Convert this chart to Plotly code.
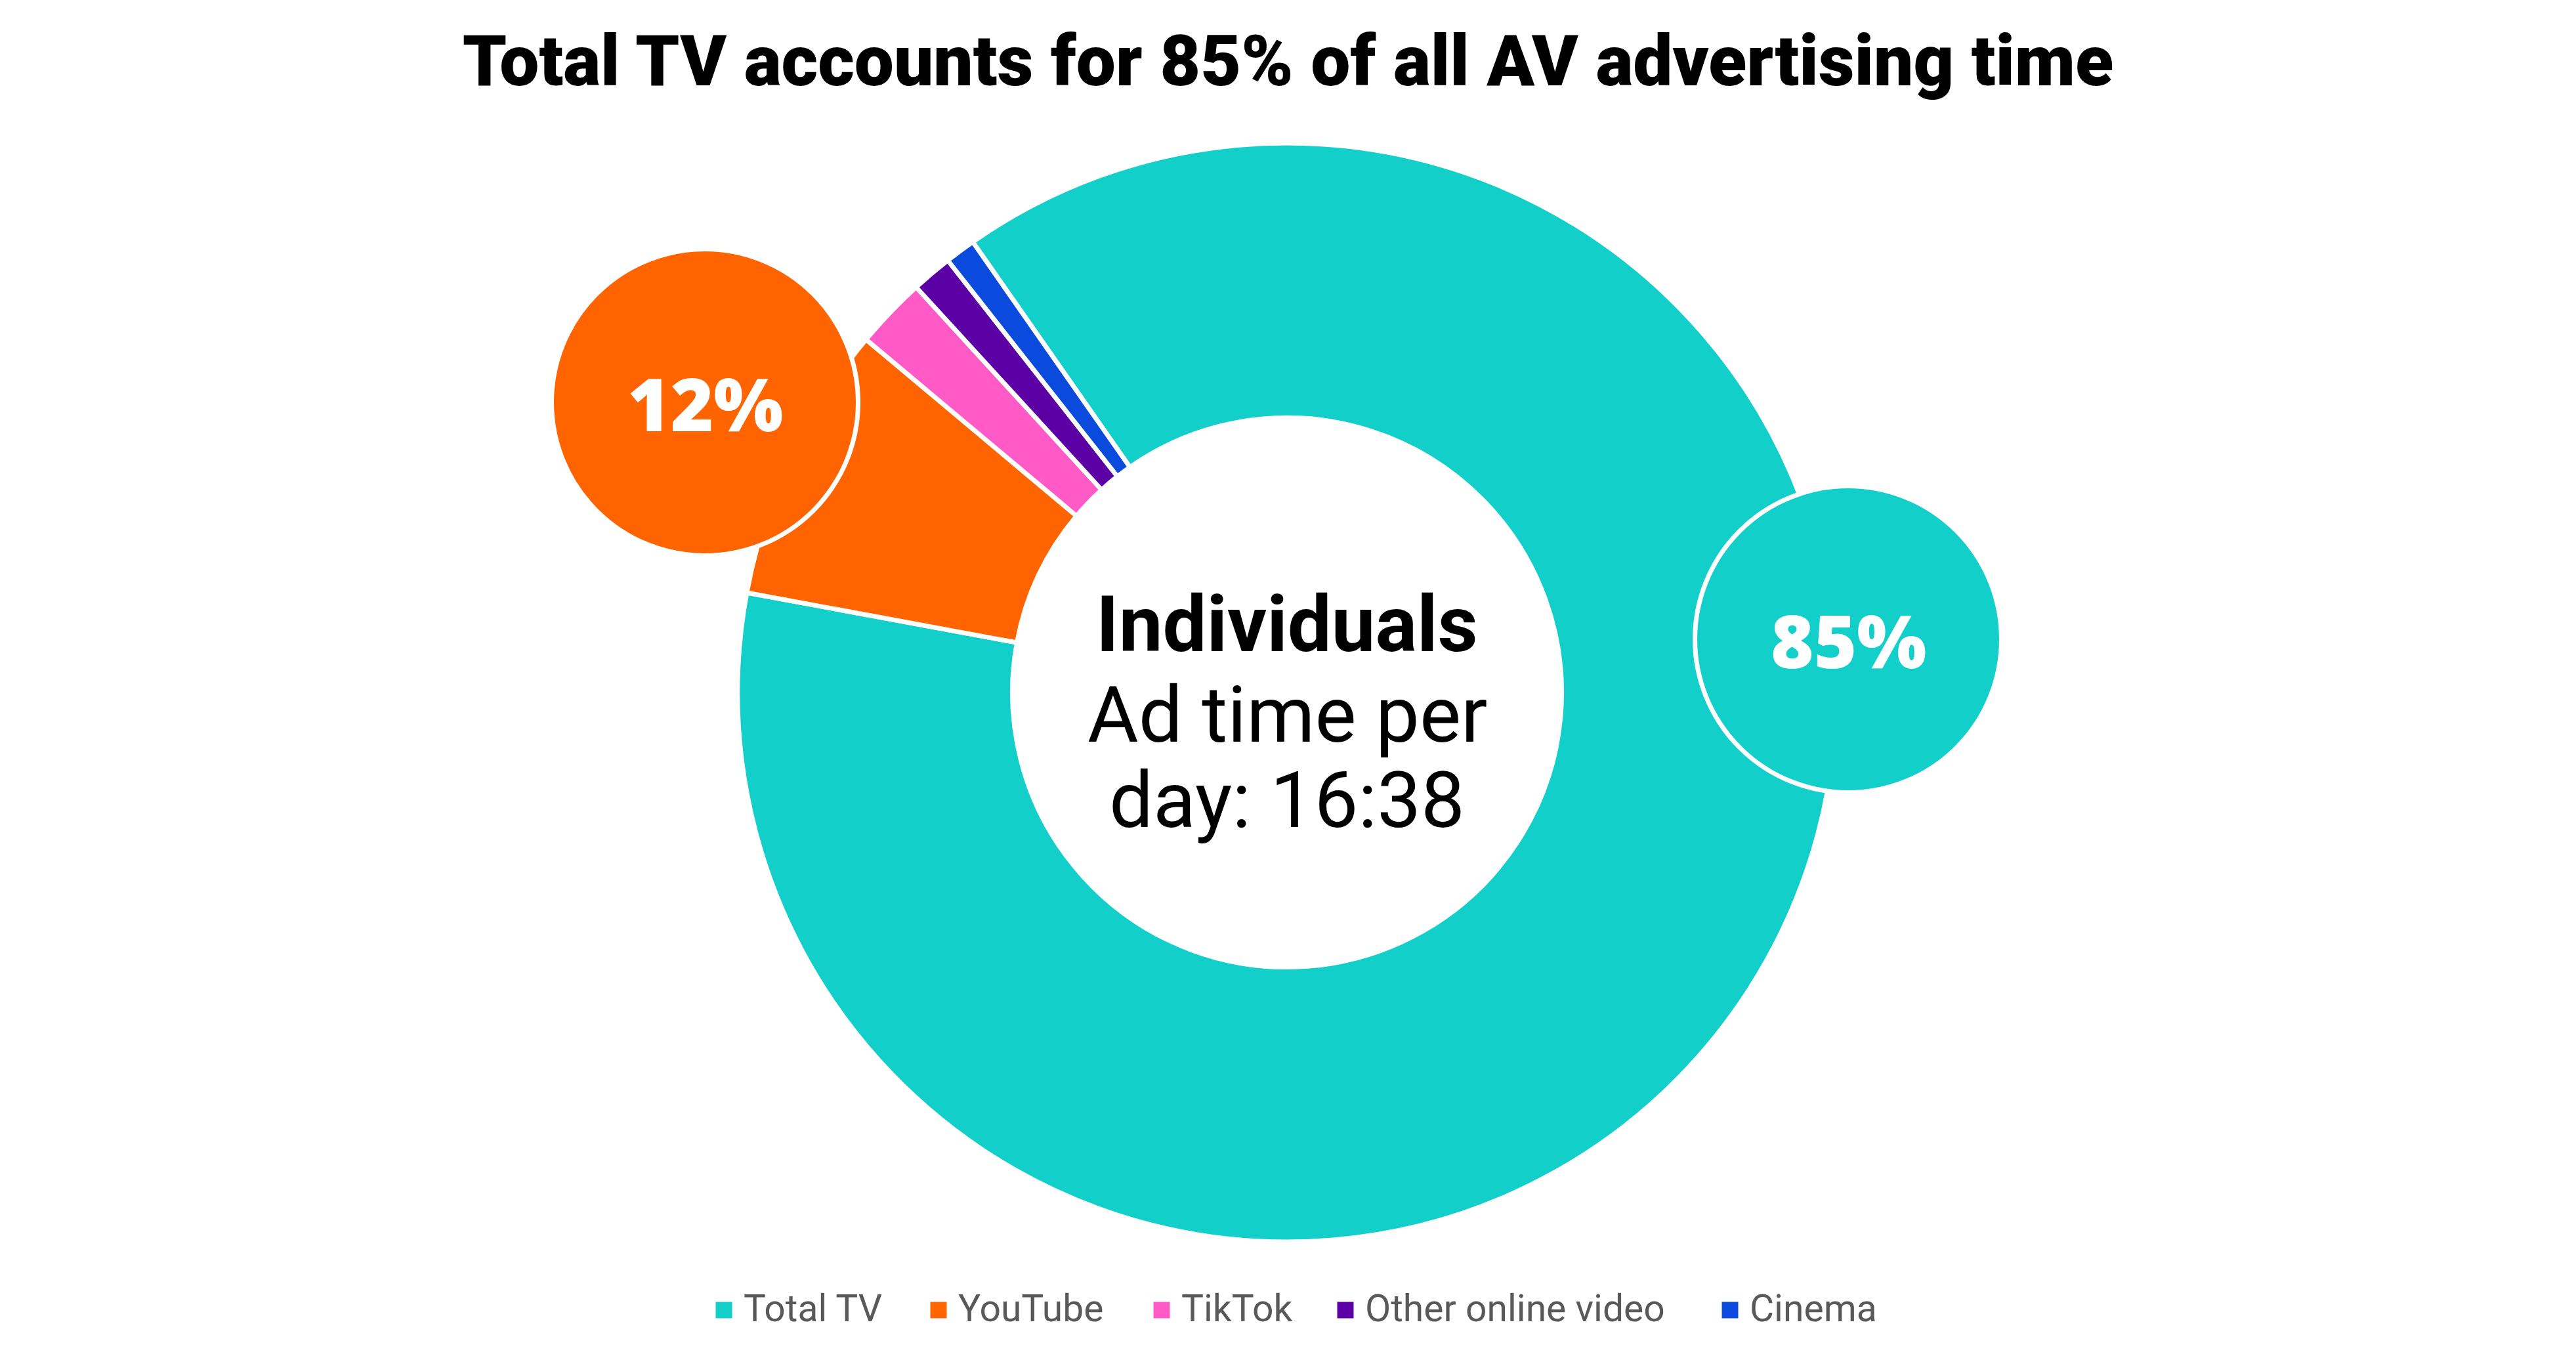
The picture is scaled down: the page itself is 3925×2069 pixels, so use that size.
import plotly.graph_objects as go

W, H = 3925, 2069

# ---- data ----
categories = ["Total TV", "YouTube", "TikTok", "Other online video", "Cinema"]
shares = [87.6, 8.2, 2.1, 1.2, 0.9]
colors = ["#13CFCA", "#FF6400", "#FF5AC5", "#5B00A5", "#0A4BDE"]

title_text = "Total TV accounts for 85% of all AV advertising time"
center_lines = ["<b>Individuals</b>", "Ad time per", "day: 16:38"]
callout_labels = ["85%", "12%"]
callout_colors = ["#13CFCA", "#FF6400"]

# ---- layout geometry (pixels) ----
cx, cy, R = 1961, 1055, 837
callout_centers = [(2816, 974), (1074, 613)]
callout_r = 237
center_line_y = [951, 1089, 1219]
legend_marker_x = [1103, 1430, 1770, 2050, 2636]
legend_y = 1996
legend_sq = 25


def px(x):
    return x / W


def py(y):
    return 1 - y / H


fig = go.Figure()
fig.add_trace(go.Pie(
    labels=categories,
    values=shares,
    hole=0.5,
    sort=False,
    direction="clockwise",
    rotation=-34.9,
    marker=dict(colors=colors, line=dict(color="white", width=7)),
    textinfo="none",
    hoverinfo="label+percent",
    showlegend=False,
    domain=dict(x=[px(cx - R), px(cx + R)], y=[py(cy + R), py(cy - R)]),
))

shapes = []
annotations = []
for (ccx, ccy), lab, col in zip(callout_centers, callout_labels, callout_colors):
    rr = callout_r - 3.5
    shapes.append(dict(
        type="circle", xref="paper", yref="paper",
        x0=px(ccx - rr), x1=px(ccx + rr), y0=py(ccy + rr), y1=py(ccy - rr),
        fillcolor=col, line=dict(color="white", width=7), layer="above",
    ))
    annotations.append(dict(
        text=lab, x=px(ccx), y=py(ccy), xref="paper", yref="paper",
        showarrow=False, xanchor="center", yanchor="middle",
        font=dict(family="Open Sans", size=112, color="white", weight=800),
    ))

for line, yy in zip(center_lines, center_line_y):
    annotations.append(dict(
        text=line, x=px(cx), y=py(yy), xref="paper", yref="paper",
        showarrow=False, xanchor="center", yanchor="middle",
        font=dict(family="Roboto", size=119, color="black"),
    ))

# legend (built from the category / colour lists)
for name, col, mx in zip(categories, colors, legend_marker_x):
    h = legend_sq / 2
    shapes.append(dict(
        type="rect", xref="paper", yref="paper",
        x0=px(mx - h), x1=px(mx + h), y0=py(legend_y + h), y1=py(legend_y - h),
        fillcolor=col, line=dict(width=0), layer="above",
    ))
    annotations.append(dict(
        text=name, x=px(mx + 28), y=py(legend_y - 3), xref="paper", yref="paper",
        showarrow=False, xanchor="left", yanchor="middle",
        font=dict(family="Roboto", size=57, color="#595959"),
    ))

fig.update_layout(
    width=W, height=H,
    margin=dict(l=0, r=0, t=0, b=0),
    paper_bgcolor="white", plot_bgcolor="white",
    title=dict(
        text=title_text, x=0.5, xanchor="center", y=py(93), yanchor="middle",
        yref="container",
        font=dict(family="Roboto", size=107, color="black", weight=900),
    ),
    showlegend=False,
    shapes=shapes,
    annotations=annotations,
)

fig.write_html(
    "out.html",
    config={"displayModeBar": False},
    post_script="document.body.style.margin='0px';",
)
